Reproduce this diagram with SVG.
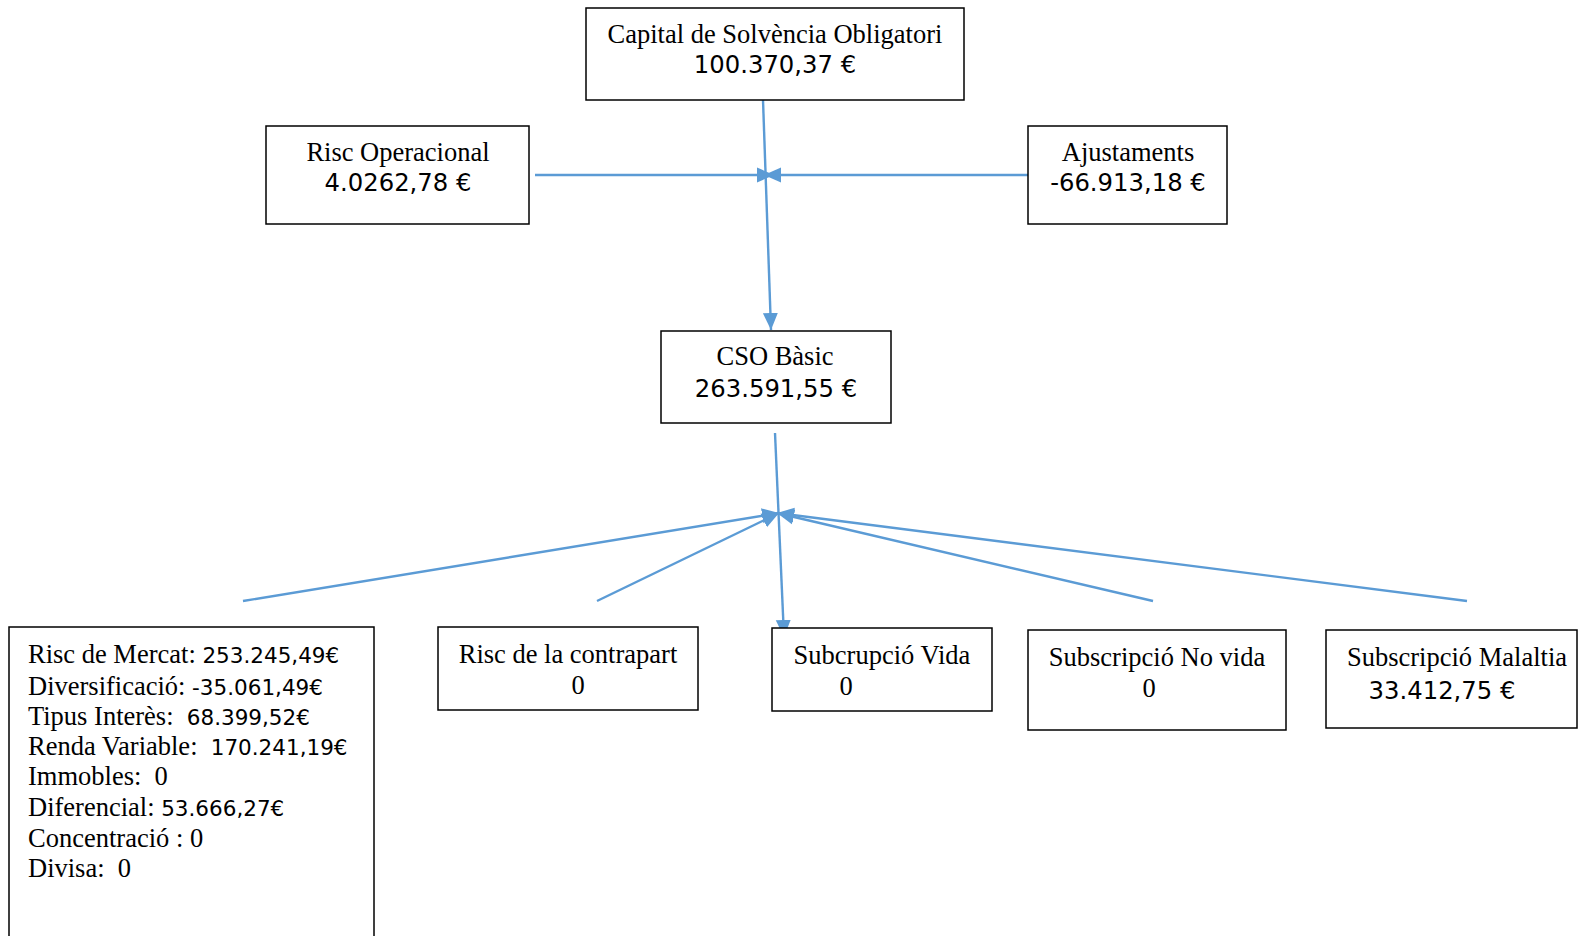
<svg xmlns="http://www.w3.org/2000/svg" width="1579" height="936" viewBox="0 0 1579 936">
<style>
.box{fill:#fff;stroke:#000;stroke-width:1.5}
.s{font-family:"Liberation Serif","Times New Roman",serif;font-size:26.5px;fill:#000}
.n{font-family:"DejaVu Sans",Verdana,sans-serif;font-size:24.3px;fill:#000}
.ns{font-family:"DejaVu Sans",Verdana,sans-serif;font-size:21.5px}
.m{text-anchor:middle}
.c{stroke:#5B9BD5;stroke-width:2.4;fill:none}
</style>
<defs>
<marker id="ah" markerUnits="userSpaceOnUse" markerWidth="18" markerHeight="18" viewBox="0 0 18 18" refX="17" refY="9" orient="auto">
<path d="M0,1.5 L17,9 L0,16.5 Z" fill="#5B9BD5"/>
</marker>
</defs>
<rect width="1579" height="936" fill="#fff"/>

<g id="connectors">
<line class="c" x1="763" y1="100" x2="771" y2="330" marker-end="url(#ah)"/>
<line class="c" x1="535" y1="175" x2="774" y2="175" marker-end="url(#ah)"/>
<line class="c" x1="1028" y1="175" x2="764" y2="175" marker-end="url(#ah)"/>
<line class="c" x1="775" y1="433" x2="784" y2="637" marker-end="url(#ah)"/>
<line class="c" x1="243" y1="601" x2="779" y2="513" marker-end="url(#ah)"/>
<line class="c" x1="597" y1="601" x2="779" y2="513" marker-end="url(#ah)"/>
<line class="c" x1="1153" y1="601" x2="777" y2="513" marker-end="url(#ah)"/>
<line class="c" x1="1467" y1="601" x2="777" y2="513" marker-end="url(#ah)"/>
</g>

<g id="scr">
<rect class="box" x="586" y="8" width="378" height="92"/>
<text class="s m" x="775" y="43">Capital de Solvència Obligatori</text>
<text class="n m" x="775" y="73.3">100.370,37 €</text>
</g>

<g id="risc-operacional">
<rect class="box" x="266" y="126" width="263" height="98"/>
<text class="s m" x="398" y="160.8">Risc Operacional</text>
<text class="n m" x="398" y="190.8">4.0262,78 €</text>
</g>

<g id="ajustaments">
<rect class="box" x="1028" y="126" width="199" height="98"/>
<text class="s m" x="1128" y="160.8">Ajustaments</text>
<text class="n m" x="1128" y="190.8">-66.913,18 €</text>
</g>

<g id="cso-basic">
<rect class="box" x="661" y="331" width="230" height="92"/>
<text class="s m" x="775" y="365.3">CSO Bàsic</text>
<text class="n m" x="776" y="396.8">263.591,55 €</text>
</g>

<g id="risc-mercat">
<rect class="box" x="9" y="627" width="365" height="330"/>
<text class="s" xml:space="preserve" x="28" y="663.2">Risc de Mercat: <tspan class="ns">253.245,49€</tspan></text>
<text class="s" xml:space="preserve" x="28" y="694.5">Diversificació: <tspan class="ns">-35.061,49€</tspan></text>
<text class="s" xml:space="preserve" x="28" y="724.8">Tipus Interès:  <tspan class="ns">68.399,52€</tspan></text>
<text class="s" xml:space="preserve" x="28" y="755">Renda Variable:  <tspan class="ns">170.241,19€</tspan></text>
<text class="s" xml:space="preserve" x="28" y="785.2">Immobles:  0</text>
<text class="s" xml:space="preserve" x="28" y="816.4">Diferencial: <tspan class="ns">53.666,27€</tspan></text>
<text class="s" xml:space="preserve" x="28" y="846.6">Concentració : 0</text>
<text class="s" xml:space="preserve" x="28" y="876.8">Divisa:  0</text>
</g>

<g id="risc-contrapart">
<rect class="box" x="438" y="627" width="260" height="83"/>
<text class="s m" x="568" y="663.3">Risc de la contrapart</text>
<text class="s m" x="578" y="693.8">0</text>
</g>

<g id="subscripcio-vida">
<rect class="box" x="772" y="628" width="220" height="83"/>
<text class="s m" x="882" y="664.3">Subcrupció Vida</text>
<text class="s m" x="846" y="694.8">0</text>
</g>

<g id="subscripcio-no-vida">
<rect class="box" x="1028" y="630" width="258" height="100"/>
<text class="s m" x="1157" y="666.4">Subscripció No vida</text>
<text class="s m" x="1149" y="696.8">0</text>
</g>

<g id="subscripcio-malaltia">
<rect class="box" x="1326" y="630" width="251" height="98"/>
<text class="s m" x="1457" y="666.4">Subscripció Malaltia</text>
<text class="n m" x="1442" y="698.8">33.412,75 €</text>
</g>
</svg>
